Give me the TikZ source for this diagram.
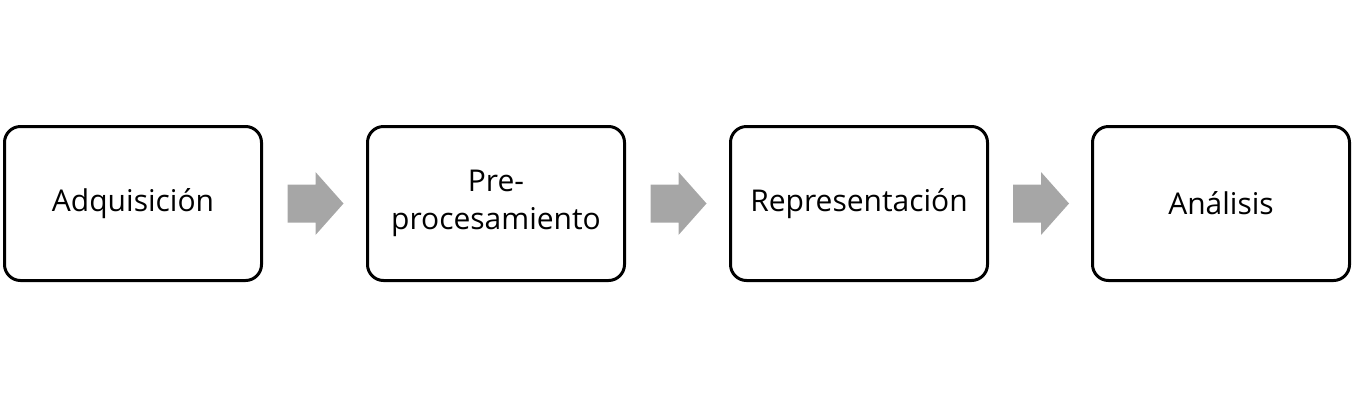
\documentclass[tikz,border=0pt]{standalone}
\usepackage{fontspec}
\setmainfont{Open Sans}
\begin{document}
\begin{tikzpicture}[x=1pt,y=-1pt,
  stepbox/.style={draw=black,line width=3pt,rounded corners=16pt,fill=white,
    minimum width=257pt,minimum height=154pt,inner sep=0pt,align=center,
    font=\fontsize{30}{38}\selectfont},
  blockarrow/.style={fill=black!35,draw=none}]
\useasboundingbox (0,0) rectangle (1354,408);
\node[stepbox] (a) at (133,203.5) {Adquisición};
\node[stepbox] (b) at (496,203.5) {Pre-\\procesamiento};
\node[stepbox] (c) at (859,203.5) {Representación};
\node[stepbox] (d) at (1221,203.5) {Análisis};
\foreach \l/\r in {a/b,b/c,c/d}{
  \path (\l.east) -- (\r.west) coordinate[midway] (m\l);
  \fill[blockarrow] ([xshift=-27pt,yshift=-19pt]m\l) -- ([xshift=1pt,yshift=-19pt]m\l)
    -- ([xshift=1pt,yshift=-31.5pt]m\l) -- ([xshift=29pt]m\l)
    -- ([xshift=1pt,yshift=31.5pt]m\l) -- ([xshift=1pt,yshift=19pt]m\l)
    -- ([xshift=-27pt,yshift=19pt]m\l) -- cycle;
}
\end{tikzpicture}
\end{document}
